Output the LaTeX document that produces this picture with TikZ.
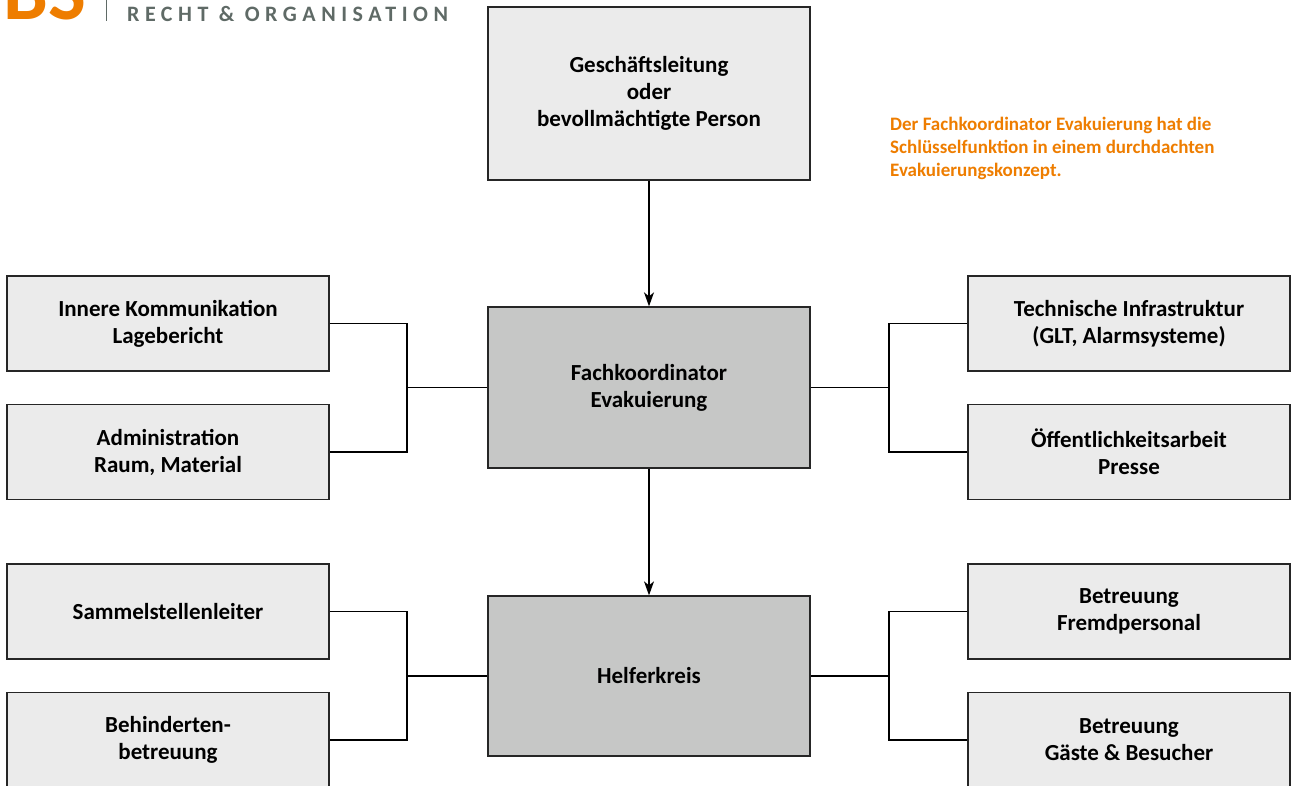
\documentclass[tikz,border=0pt]{standalone}
\usepackage{fontspec}
\setmainfont{Carlito}
\usetikzlibrary{arrows.meta}
\definecolor{hellgrau}{HTML}{EBEBEB}
\definecolor{dunkelgrau}{HTML}{C6C7C6}
\definecolor{bsorange}{RGB}{238,125,0}
\definecolor{kopfgrau}{HTML}{5F6A66}
\tikzset{
  kasten/.style = {draw = black!85, line width = 1.3pt, fill = hellgrau, minimum width = 322pt, minimum height = 95pt, align = center, inner sep = 0pt, font = \bfseries\fontsize{23}{27}\selectfont},
  linie/.style = {draw = black, line width = 1.3pt}
}
\begin{document}
\begin{tikzpicture}[x = 1pt, y = -1pt]
\useasboundingbox (0,0) rectangle (1297,786);
% Kopfzeile
\node[anchor = base west, inner sep = 0pt, text = bsorange, font = \bfseries\fontsize{80}{80}\selectfont] (bs) at (3,20) {BS};
\draw[kopfgrau, line width = 1pt] (106,0) -- (106,21);
\node[anchor = base west, inner sep = 0pt, text = kopfgrau, font = \bfseries\fontsize{22}{22}\selectfont\addfontfeatures{LetterSpace = 25}] (rubrik) at (127,22) {RECHT \& ORGANISATION};
% Mitte
\node[kasten, minimum height = 173pt] (gl) at (649,93.5) {Geschäftsleitung\\oder\\bevollmächtigte Person};
\node[kasten, fill = dunkelgrau, minimum height = 161pt] (fk) at (649,387.5) {Fachkoordinator\\Evakuierung};
\node[kasten, fill = dunkelgrau, minimum height = 160pt] (hk) at (649,676) {Helferkreis};
\draw[linie, -{Stealth[length = 14pt, width = 10pt, inset = 4pt]}] (gl) -- (fk);
\draw[linie, -{Stealth[length = 14pt, width = 10pt, inset = 4pt]}] (fk) -- (hk);
% links
\node[kasten] (innere) at (168,323.5) {Innere Kommunikation\\Lagebericht};
\node[kasten] (admin) at (168,452) {Administration\\Raum, Material};
\node[kasten] (sammel) at (168,611.5) {Sammelstellenleiter};
\node[kasten] (behind) at (168,740) {Behinderten-\\betreuung};
% rechts
\node[kasten] (technik) at (1129,323.5) {Technische Infrastruktur\\(GLT, Alarmsysteme)};
\node[kasten] (presse) at (1129,452) {Öffentlichkeitsarbeit\\Presse};
\node[kasten] (fremd) at (1129,611.5) {Betreuung\\Fremdpersonal};
\node[kasten] (gaeste) at (1129,740) {Betreuung\\Gäste \& Besucher};
% Verbindungen
\coordinate (lo) at (407,387.5);
\coordinate (ro) at (889,387.5);
\coordinate (lu) at (407,676);
\coordinate (ru) at (889,676);
\foreach \m/\k/\a/\b in {fk/lo/innere/admin, fk/ro/technik/presse, hk/lu/sammel/behind, hk/ru/fremd/gaeste}
{
\draw[linie] (\a) -| (\k) |- (\b);
\draw[linie] (\k) -- (\m);
}
% Hinweis
\node[anchor = north west, inner sep = 0pt, align = left, text = bsorange, font = \bfseries\fontsize{19}{23}\selectfont] (hinweis) at (890,117) {Der Fachkoordinator Evakuierung hat die\\Schlüsselfunktion in einem durchdachten\\Evakuierungskonzept.};
\end{tikzpicture}
\end{document}
